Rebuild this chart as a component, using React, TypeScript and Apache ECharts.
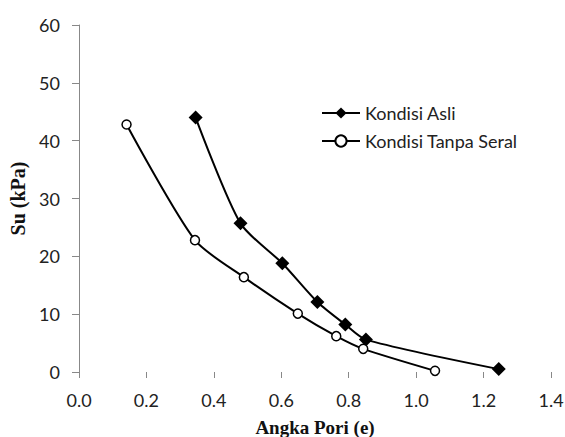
import React, { useEffect, useRef } from "react";
import * as echarts from "echarts";

const seriesNames = ["Kondisi Asli", "Kondisi Tanpa Seral"];
const asliX = [0.346, 0.479, 0.603, 0.707, 0.79, 0.851, 1.245];
const asliY = [44.0, 25.7, 18.8, 12.1, 8.2, 5.6, 0.5];
const seralX = [0.141, 0.344, 0.489, 0.649, 0.763, 0.843, 1.056];
const seralY = [42.8, 22.8, 16.4, 10.1, 6.2, 4.0, 0.2];
const xTitle = "Angka Pori (e)";
const yTitle = "Su (kPa)";

const zip = (xs: number[], ys: number[]) => xs.map((x, i) => [x, ys[i]]);

export default function App() {
  const ref = useRef<HTMLDivElement>(null);
  useEffect(() => {
    if (!ref.current) return;
    const chart = echarts.init(ref.current, null, { renderer: "svg" });
    const labelFont = { fontFamily: "Lato", fontSize: 18, color: "#222" };
    chart.setOption({
      animation: false,
      backgroundColor: "#fff",
      grid: { left: 79, right: 14, top: 25, bottom: 65, containLabel: false, outerBoundsMode: "none" },
      legend: {
        orient: "vertical",
        left: 316,
        top: 99,
        itemWidth: 38,
        itemHeight: 14,
        itemGap: 10,
        textStyle: { fontFamily: "Lato", fontSize: 18, color: "#222" },
        data: seriesNames,
      },
      xAxis: {
        type: "value",
        min: 0,
        max: 1.4,
        interval: 0.2,
        name: xTitle,
        nameLocation: "middle",
        nameGap: 46,
        nameTextStyle: { fontFamily: "Liberation Serif", fontWeight: "bold", fontSize: 19, color: "#111" },
        axisLine: { show: false },
        axisTick: { show: true, length: 6, lineStyle: { color: "#888" } },
        axisLabel: { ...labelFont, margin: 19, formatter: (v: number) => v.toFixed(1) },
        splitLine: { show: false },
      },
      yAxis: {
        type: "value",
        min: 0,
        max: 60,
        interval: 10,
        name: yTitle,
        nameLocation: "middle",
        nameGap: 48,
        nameRotate: 90,
        nameTextStyle: { fontFamily: "Liberation Serif", fontWeight: "bold", fontSize: 20, color: "#111" },
        axisLine: { show: true, lineStyle: { color: "#888", width: 1 } },
        axisTick: { show: true, length: 7, lineStyle: { color: "#888" } },
        axisLabel: { ...labelFont, margin: 19 },
        splitLine: { show: false },
      },
      series: [
        {
          name: seriesNames[0],
          type: "line",
          data: zip(asliX, asliY),
          smooth: 0.25,
          symbol: "diamond",
          symbolSize: 14,
          lineStyle: { color: "#000", width: 2 },
          itemStyle: { color: "#000" },
        },
        {
          name: seriesNames[1],
          type: "line",
          data: zip(seralX, seralY),
          smooth: 0.25,
          symbol: "circle",
          symbolSize: 9,
          lineStyle: { color: "#000", width: 2 },
          itemStyle: { color: "#fff", borderColor: "#000", borderWidth: 1.5 },
        },
      ],
    });
    return () => chart.dispose();
  }, []);
  return <div ref={ref} style={{ width: 565, height: 437, position: "absolute", left: 0, top: 0 }} />;
}
